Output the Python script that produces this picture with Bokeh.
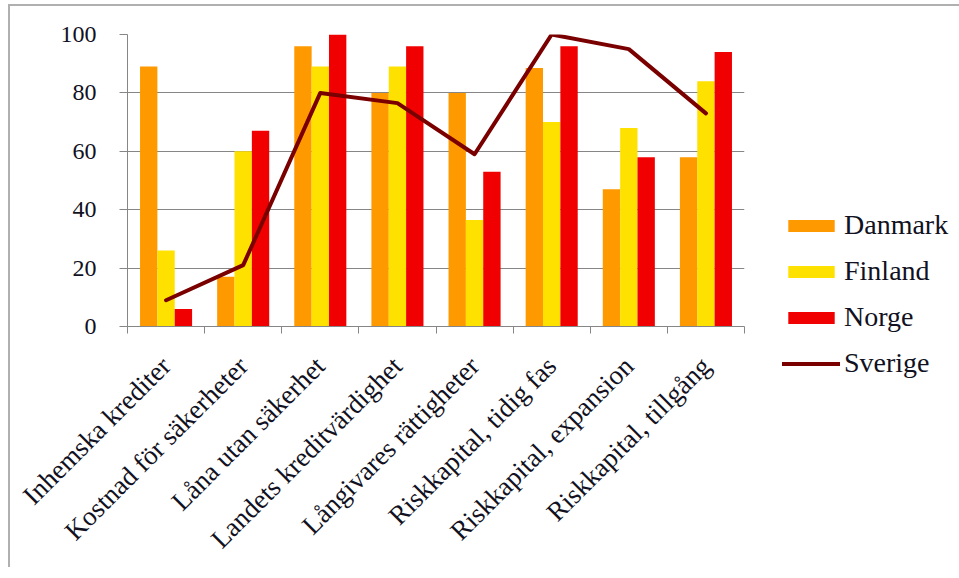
import math
from bokeh.plotting import figure
from bokeh.models import (ColumnDataSource, FixedTicker, Range1d, Legend, LegendItem)
from bokeh.transform import dodge
from bokeh.embed import file_html
from bokeh.resources import INLINE

categories = ["Inhemska krediter", "Kostnad för säkerheter", "Låna utan säkerhet",
              "Landets kreditvärdighet", "Långivares rättigheter", "Riskkapital, tidig fas",
              "Riskkapital, expansion", "Riskkapital, tillgång"]
danmark = [89, 17, 96, 80, 80, 88.5, 47, 58]
finland = [26, 60, 89, 89, 36.5, 70, 68, 84]
norge = [6, 67, 100, 96, 53, 96, 58, 94]
sverige = [9, 21, 80, 76.5, 59, 100, 95, 73]
y_ticks = [0, 20, 40, 60, 80, 100]

FONT = "Liberation Serif"
TXT = "#111122"
GRID = "#868686"

xc = [i + 0.5 for i in range(len(categories))]
src = ColumnDataSource(dict(x=xc, danmark=danmark, finland=finland, norge=norge, sverige=sverige))

p = figure(frame_width=617, frame_height=292, output_backend="svg", toolbar_location=None,
           x_range=Range1d(0, len(categories)), y_range=Range1d(0, 100),
           min_border_left=117, min_border_top=28, min_border_right=0, min_border_bottom=0)
p.outline_line_color = None
p.background_fill_color = "white"
p.styles = {"border-left": "2px solid #B0B0B0", "border-top": "2px solid #B0B0B0",
            "margin-left": "8px", "margin-top": "4px"}

bw = 0.225
r_d = p.vbar(x=dodge("x", -bw, range=p.x_range), top="danmark", width=bw, source=src,
             fill_color="#FF9900", line_color=None)
r_f = p.vbar(x=dodge("x", 0, range=p.x_range), top="finland", width=bw, source=src,
             fill_color="#FFE100", line_color=None)
r_n = p.vbar(x=dodge("x", bw, range=p.x_range), top="norge", width=bw, source=src,
             fill_color="#F00000", line_color=None)
r_s = p.line(x="x", y="sverige", source=src, line_color="#7A0000", line_width=4,
             line_join="round", line_cap="round")

# axes
p.xaxis.ticker = FixedTicker(ticks=xc, minor_ticks=list(range(len(categories) + 1)))
p.xaxis.major_label_overrides = {v: c for v, c in zip(xc, categories)}
p.xaxis.major_label_orientation = math.pi / 4
p.xaxis.major_tick_out = 0
p.xaxis.major_tick_in = 0
p.xaxis.minor_tick_out = 7
p.xaxis.minor_tick_in = 0
p.xaxis.minor_tick_line_color = GRID
p.xaxis.axis_line_color = GRID
p.xaxis.major_label_standoff = 28
p.xaxis.major_label_text_font = FONT
p.xaxis.major_label_text_font_size = "27px"
p.xaxis.major_label_text_color = TXT

p.yaxis.ticker = FixedTicker(ticks=y_ticks)
p.yaxis.minor_tick_line_color = None
p.yaxis.major_tick_out = 8
p.yaxis.major_tick_in = 0
p.yaxis.major_tick_line_color = GRID
p.yaxis.axis_line_color = GRID
p.yaxis.major_label_standoff = 23
p.yaxis.major_label_text_font = FONT
p.yaxis.major_label_text_font_size = "24px"
p.yaxis.major_label_text_color = TXT

p.xgrid.grid_line_color = None
p.ygrid.grid_line_color = GRID
p.ygrid.ticker = FixedTicker(ticks=y_ticks)

legend = Legend(items=[LegendItem(label="Danmark", renderers=[r_d]),
                       LegendItem(label="Finland", renderers=[r_f]),
                       LegendItem(label="Norge", renderers=[r_n]),
                       LegendItem(label="Sverige", renderers=[r_s])],
                location=(38, -53), orientation="vertical")
legend.glyph_width = 58
legend.glyph_height = 15
legend.label_height = 15
legend.label_standoff = 4
legend.spacing = 14
legend.padding = 0
legend.margin = 0
legend.border_line_color = None
legend.background_fill_color = None
legend.background_fill_alpha = 0
legend.label_text_font = FONT
legend.label_text_font_size = "28px"
legend.label_text_color = TXT
p.add_layout(legend, "right")

open("out.html", "w").write(file_html(p, INLINE))
